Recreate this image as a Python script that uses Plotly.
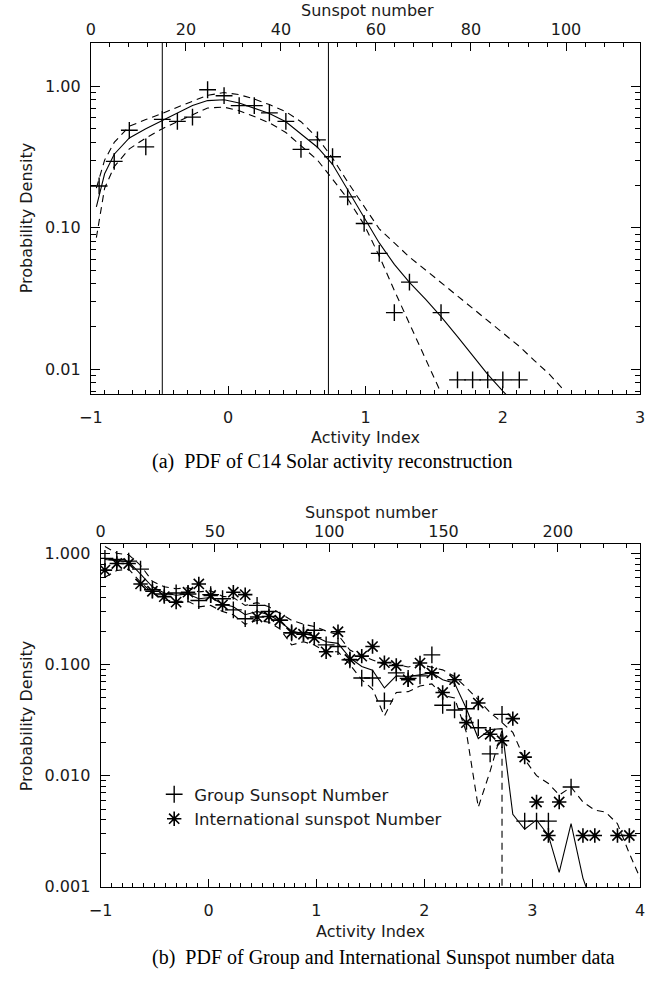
import plotly.graph_objects as go

W, H = 650, 983
def px(x): return x / W
def py(y): return 1 - y / H

# ---------------- Panel (a) data: C14 activity reconstruction ----------------
a_x = [-0.94, -0.83, -0.72, -0.60, -0.48, -0.37, -0.26, -0.15, -0.03, 0.08, 0.19, 0.30,
       0.42, 0.53, 0.65, 0.76, 0.87, 0.99, 1.10, 1.21, 1.32, 1.44, 1.55, 1.67, 1.78,
       1.89, 2.00, 2.12]
a_pdf = [0.197, 0.294, 0.487, 0.372, 0.582, 0.563, 0.604, 0.942, 0.855, 0.728, 0.728,
         0.647, 0.563, 0.357, 0.417, 0.317, 0.165, 0.107, 0.0658, 0.0251, 0.0412, None,
         0.0251, 0.0084, 0.0084, 0.0084, 0.0084, 0.0084]

a_cx = [-0.96, -0.90, -0.83, -0.72, -0.60, -0.48, -0.37, -0.26, -0.15, -0.03, 0.08, 0.19,
        0.30, 0.42, 0.53, 0.65, 0.76, 0.87, 0.99, 1.10, 1.21, 1.32, 1.44, 1.55, 1.67,
        1.78, 1.89, 2.00, 2.12, 2.23, 2.34, 2.45]
a_fit = [0.14, 0.24, 0.33, 0.43, 0.50, 0.57, 0.64, 0.73, 0.79, 0.80, 0.76, 0.70, 0.64,
         0.56, 0.46, 0.37, 0.28, 0.185, 0.118, 0.078, 0.055, 0.041, 0.031, 0.0235, 0.017,
         0.0125, 0.0092, 0.0070, 0.0053, None, None, None]
a_upper = [0.19, 0.30, 0.40, 0.52, 0.58, 0.64, 0.71, 0.78, 0.86, 0.90, 0.87, 0.81, 0.74,
           0.66, 0.56, 0.43, 0.31, 0.21, 0.14, 0.098, 0.078, 0.062, 0.050, 0.041, 0.033,
           0.027, 0.022, 0.018, 0.0145, 0.0115, 0.0092, 0.0070]
a_lower = [0.085, 0.19, 0.27, 0.36, 0.43, 0.50, 0.56, 0.63, 0.70, 0.71, 0.67, 0.61, 0.55,
           0.47, 0.38, 0.30, 0.22, 0.16, 0.105, 0.063, 0.036, 0.021, 0.012, 0.0068, None,
           None, None, None, None, None, None, None]
a_vlines = [-0.48, 0.73]

# ---------------- Panel (b) data: Group & International sunspot numbers ----------------
b_x = [-0.96, -0.85, -0.74, -0.63, -0.52, -0.41, -0.30, -0.19, -0.09, 0.02, 0.13, 0.23,
       0.34, 0.45, 0.56, 0.66, 0.77, 0.88, 0.98, 1.09, 1.20, 1.31, 1.42, 1.52, 1.63, 1.74,
       1.85, 1.96, 2.07, 2.17, 2.28, 2.39, 2.50, 2.61, 2.72, 2.82, 2.93, 3.04, 3.15, 3.25,
       3.36, 3.47, 3.58, 3.68, 3.79, 3.90, 4.00]
b_group = [0.90, 0.88, 0.85, 0.72, 0.47, 0.43, 0.44, 0.43, 0.376, 0.425, 0.39, 0.31, 0.258,
           0.34, 0.30, 0.25, 0.193, 0.193, 0.203, 0.15, 0.145, 0.11, 0.0755, 0.0755, 0.047,
           0.084, 0.075, 0.079, 0.122, 0.043, 0.039, 0.040, 0.027, 0.0157, 0.0356, None,
           0.0039, 0.0039, 0.0039, None, 0.0079, None, None, None, None, None, None]
b_intl = [0.706, 0.81, 0.81, 0.53, 0.456, 0.408, 0.364, 0.447, 0.53, 0.417, 0.344, 0.447,
          0.425, 0.267, 0.27, 0.25, 0.193, 0.187, 0.174, 0.13, 0.197, 0.111, 0.119, 0.145,
          0.104, 0.098, 0.073, 0.103, 0.084, 0.056, 0.073, 0.030, 0.045, 0.0236, 0.0206,
          0.0326, 0.0147, 0.0058, 0.0029, 0.0058, None, 0.0029, 0.0029, None, 0.0029,
          0.0029, None]
b_fit = [0.88, 0.86, 0.84, 0.65, 0.50, 0.44, 0.42, 0.43, 0.39, 0.40, 0.35, 0.33, 0.28, 0.30,
         0.28, 0.245, 0.20, 0.19, 0.18, 0.16, 0.155, 0.115, 0.096, 0.089, 0.0615, 0.079,
         0.078, 0.081, 0.084, 0.073, 0.068, 0.040, 0.0216, 0.026, 0.0265, 0.0045, 0.0033,
         0.0040, 0.0029, 0.00135, 0.0037, 0.0012, 0.0006, None, None, None, None]
b_upper = [1.15, 1.0, 0.97, 0.78, 0.56, 0.50, 0.48, 0.49, 0.45, 0.46, 0.41, 0.40, 0.34, 0.36,
           0.33, 0.29, 0.25, 0.23, 0.22, 0.20, 0.185, 0.135, 0.12, 0.11, 0.10, 0.10, 0.095,
           0.10, 0.095, 0.0895, 0.078, 0.062, 0.048, 0.037, 0.030, 0.0245, 0.014, 0.010,
           0.0085, 0.0067, 0.0079, 0.0058, 0.0049, 0.0047, 0.0037, 0.0020, 0.0012]
b_lower = [0.61, 0.70, 0.72, 0.55, 0.44, 0.38, 0.37, 0.37, 0.33, 0.34, 0.30, 0.28, 0.23,
           0.25, 0.24, 0.21, 0.15, 0.16, 0.15, 0.13, 0.13, 0.10, 0.073, 0.06, 0.0344, 0.056,
           0.057, 0.064, 0.067, 0.053, 0.05, 0.0245, 0.0052, 0.011, 0.0256]
b_lower_end = 0.0005   # zero-count bin (drops off the log axis)

# ---------------- styling ----------------
FONT = "DejaVu Sans"
TXT = "#1a1a1a"
LW = 1.1
DASH = "7px,5px"

fig = go.Figure()

cross = dict(symbol="cross-thin-open", size=12, color="black",
             line=dict(color="black", width=1.4))
star = dict(symbol="asterisk-open", size=12, color="black",
            line=dict(color="black", width=1.6))

# panel (a)
fig.add_trace(go.Scatter(x=a_cx, y=a_fit, mode="lines", line=dict(color="black", width=LW),
                         xaxis="x", yaxis="y", showlegend=False, hoverinfo="skip"))
fig.add_trace(go.Scatter(x=a_cx, y=a_upper, mode="lines",
                         line=dict(color="black", width=LW, dash=DASH),
                         xaxis="x", yaxis="y", showlegend=False, hoverinfo="skip"))
fig.add_trace(go.Scatter(x=a_cx, y=a_lower, mode="lines",
                         line=dict(color="black", width=LW, dash=DASH),
                         xaxis="x", yaxis="y", showlegend=False, hoverinfo="skip"))
fig.add_trace(go.Scatter(x=a_x, y=a_pdf, mode="markers", marker=cross,
                         xaxis="x", yaxis="y", showlegend=False))

# panel (b)
fig.add_trace(go.Scatter(x=b_x, y=b_fit, mode="lines", line=dict(color="black", width=LW),
                         xaxis="x3", yaxis="y2", showlegend=False, hoverinfo="skip"))
fig.add_trace(go.Scatter(x=b_x, y=b_upper, mode="lines",
                         line=dict(color="black", width=LW, dash=DASH),
                         xaxis="x3", yaxis="y2", showlegend=False, hoverinfo="skip"))
fig.add_trace(go.Scatter(x=b_x[:len(b_lower)] + [b_x[len(b_lower) - 1]],
                         y=b_lower + [b_lower_end], mode="lines",
                         line=dict(color="black", width=LW, dash=DASH),
                         xaxis="x3", yaxis="y2", showlegend=False, hoverinfo="skip"))
fig.add_trace(go.Scatter(x=b_x, y=b_group, mode="markers", name="Group Sunsopt Number",
                         marker=cross, xaxis="x3", yaxis="y2"))
fig.add_trace(go.Scatter(x=b_x, y=b_intl, mode="markers", name="International sunspot Number",
                         marker=star, xaxis="x3", yaxis="y2"))

for v in a_vlines:
    fig.add_shape(type="line", xref="x", yref="y domain", x0=v, x1=v, y0=0, y1=1,
                  line=dict(color="black", width=1))

tickfont = dict(family=FONT, size=16, color=TXT)
common_x = dict(showline=True, linecolor="black", linewidth=1, ticks="inside",
                tickcolor="black", tickwidth=1, showgrid=False, zeroline=False,
                tickfont=tickfont, ticklabeloverflow="allow")

dom_a_x = [px(81), px(645)]
dom_a_y = [py(398), py(43)]
dom_b_x = [px(91), px(645)]
dom_b_y = [py(896), py(550)]

fig.update_layout(
    width=W, height=H, margin=dict(l=0, r=0, t=0, b=0),
    paper_bgcolor="white", plot_bgcolor="white",
    xaxis=dict(domain=dom_a_x, anchor="y", range=[-1, 3], dtick=1, tick0=0, ticklen=8,
               minor=dict(dtick=0.1, ticks="inside", ticklen=4, tickcolor="black"),
               ticklabelstandoff=9, **common_x),
    xaxis2=dict(domain=dom_a_x, anchor="y", overlaying="x", side="top", range=[0, 115.6],
                dtick=20, tick0=0, ticklen=8,
                minor=dict(dtick=4, ticks="inside", ticklen=4, tickcolor="black"),
                ticklabelstandoff=0, **common_x),
    yaxis=dict(domain=dom_a_y, anchor="x", type="log",
               range=[-2.175, 0.3075], dtick=1, tickformat=".2f", ticklen=9,
               minor=dict(dtick="D1", ticks="inside", ticklen=5, tickcolor="black"),
               mirror="ticks", ticklabelstandoff=6, **common_x),
    xaxis3=dict(domain=dom_b_x, anchor="y2", range=[-1, 4], dtick=1, tick0=0, ticklen=8,
                minor=dict(dtick=0.1, ticks="inside", ticklen=4, tickcolor="black"),
                ticklabelstandoff=9, **common_x),
    xaxis4=dict(domain=dom_b_x, anchor="y2", overlaying="x3", side="top", range=[0, 236],
                dtick=50, tick0=0, ticklen=8,
                minor=dict(dtick=10, ticks="inside", ticklen=4, tickcolor="black"),
                ticklabelstandoff=0, **common_x),
    yaxis2=dict(domain=dom_b_y, anchor="x3", type="log",
                range=[-3.0, 0.08], dtick=1, tickformat=".3f", ticklen=9,
                minor=dict(dtick="D1", ticks="inside", ticklen=5, tickcolor="black"),
                mirror="ticks", ticklabelstandoff=6, **common_x),
    legend=dict(x=px(146), y=py(785), xanchor="left", yanchor="top",
                bgcolor="rgba(0,0,0,0)", font=dict(family=FONT, size=16.5, color=TXT),
                itemwidth=30, tracegroupgap=0),
    showlegend=True,
)

fig.add_trace(go.Scatter(x=[None], y=[None], xaxis="x2", yaxis="y", showlegend=False,
                         hoverinfo="skip"))
fig.add_trace(go.Scatter(x=[None], y=[None], xaxis="x4", yaxis="y2", showlegend=False,
                         hoverinfo="skip"))

lab = dict(family=FONT, size=16, color=TXT)
cap = dict(family="Liberation Serif", size=20, color="black")
ann = [
    dict(text="Sunspot number", x=px(365), y=py(11), font=lab),
    dict(text="Activity Index", x=px(363), y=py(442), font=lab),
    dict(text="(a)  PDF of C14 Solar activity reconstruction", x=px(329), y=py(466), font=cap),
    dict(text="Probability Density", x=px(15), y=py(220), font=lab, textangle=-90),
    dict(text="Sunspot number", x=px(369), y=py(518), font=lab),
    dict(text="Activity Index", x=px(368), y=py(941), font=lab),
    dict(text="(b)  PDF of Group and International Sunspot number data", x=px(381), y=py(967), font=cap),
    dict(text="Probability Density", x=px(15), y=py(723), font=lab, textangle=-90),
]
for a in ann:
    fig.add_annotation(xref="paper", yref="paper", showarrow=False,
                       xanchor="center", yanchor="middle", **a)

fig.write_html("out.html")
